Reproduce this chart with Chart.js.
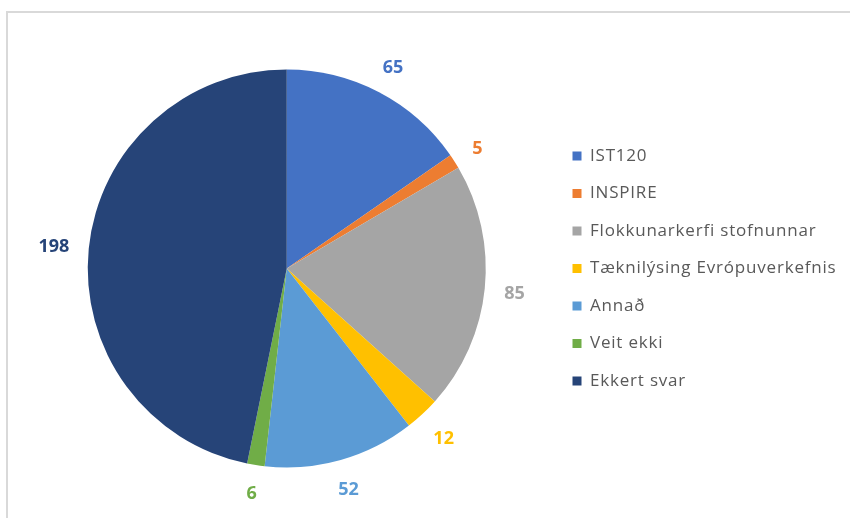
<!DOCTYPE html>
<html>
<head>
<meta charset="utf-8">
<script src="https://cdn.jsdelivr.net/npm/chart.js@4.4.1/dist/chart.umd.min.js"></script>
<style>
  html, body { margin: 0; padding: 0; background: #fff; }
  #frame {
    position: absolute; left: 6px; top: 11px; width: 850px; height: 520px;
    border-top: 2px solid #d9d9d9; border-left: 2px solid #d9d9d9;
  }
  #wrap { position: absolute; left: 0; top: 0; width: 850px; height: 518px; }
</style>
</head>
<body>
<div id="frame"></div>
<div id="wrap"><canvas id="pieChart" width="850" height="518"></canvas></div>
<script>
const categories = [
  "IST120",
  "INSPIRE",
  "Flokkunarkerfi stofnunnar",
  "Tæknilýsing Evrópuverkefnis",
  "Annað",
  "Veit ekki",
  "Ekkert svar"
];
const answers = [65, 5, 85, 12, 52, 6, 198];
const sliceColors = ["#4472C4", "#ED7D31", "#A5A5A5", "#FFC000", "#5B9BD5", "#70AD47", "#264478"];

const legendFont = { family: "'Open Sans', sans-serif", size: 17 };
const legendSpacing = "0.8px";
const boxSize = 9;

// legend sits at a fixed left edge, chart area fills the rest
const mctx = document.createElement("canvas").getContext("2d");
mctx.font = legendFont.size + "px " + legendFont.family;
mctx.letterSpacing = legendSpacing;
const longest = Math.max(...categories.map(c => mctx.measureText(c).width));
const legendWidth = 20 + boxSize + legendFont.size / 2 + longest + 10;
const padRight = Math.max(0, 850 - 552.5 - legendWidth);
const padLeft = 2 * 287 - 552.5;

const legendLetters = {
  id: "legendLetters",
  beforeLayout(chart) { chart.ctx.letterSpacing = legendSpacing; },
  beforeDraw(chart) { chart.ctx.letterSpacing = legendSpacing; }
};

// value labels outside each slice, in the slice colour
const outsideLabels = {
  id: "outsideLabels",
  afterDatasetsDraw(chart) {
    const ctx = chart.ctx;
    const meta = chart.getDatasetMeta(0);
    ctx.save();
    ctx.letterSpacing = "0px";
    ctx.font = "bold 18px 'Open Sans', sans-serif";
    ctx.textAlign = "center";
    ctx.textBaseline = "middle";
    meta.data.forEach((arc, i) => {
      const p = arc.getProps(["startAngle", "endAngle", "outerRadius", "x", "y"], true);
      const mid = (p.startAngle + p.endAngle) / 2;
      const text = String(answers[i]);
      const w = ctx.measureText(text).width;
      const r = p.outerRadius + 19 + (w / 2) * Math.abs(Math.cos(mid)) + 7 * Math.abs(Math.sin(mid));
      ctx.fillStyle = sliceColors[i];
      ctx.fillText(text, p.x + Math.cos(mid) * r, p.y + Math.sin(mid) * r + 2);
    });
    ctx.restore();
  }
};

new Chart(document.getElementById("pieChart"), {
  type: "pie",
  data: {
    labels: categories,
    datasets: [{
      data: answers,
      backgroundColor: sliceColors,
      borderWidth: 0
    }]
  },
  options: {
    responsive: false,
    animation: false,
    radius: 199,
    layout: {
      padding: { top: 19, bottom: 0, left: padLeft, right: padRight }
    },
    plugins: {
      legend: {
        position: "right",
        labels: {
          color: "#595959",
          font: legendFont,
          boxWidth: boxSize,
          boxHeight: boxSize,
          padding: 20.5
        }
      },
      tooltip: { enabled: false }
    }
  },
  plugins: [legendLetters, outsideLabels]
});
</script>
</body>
</html>
